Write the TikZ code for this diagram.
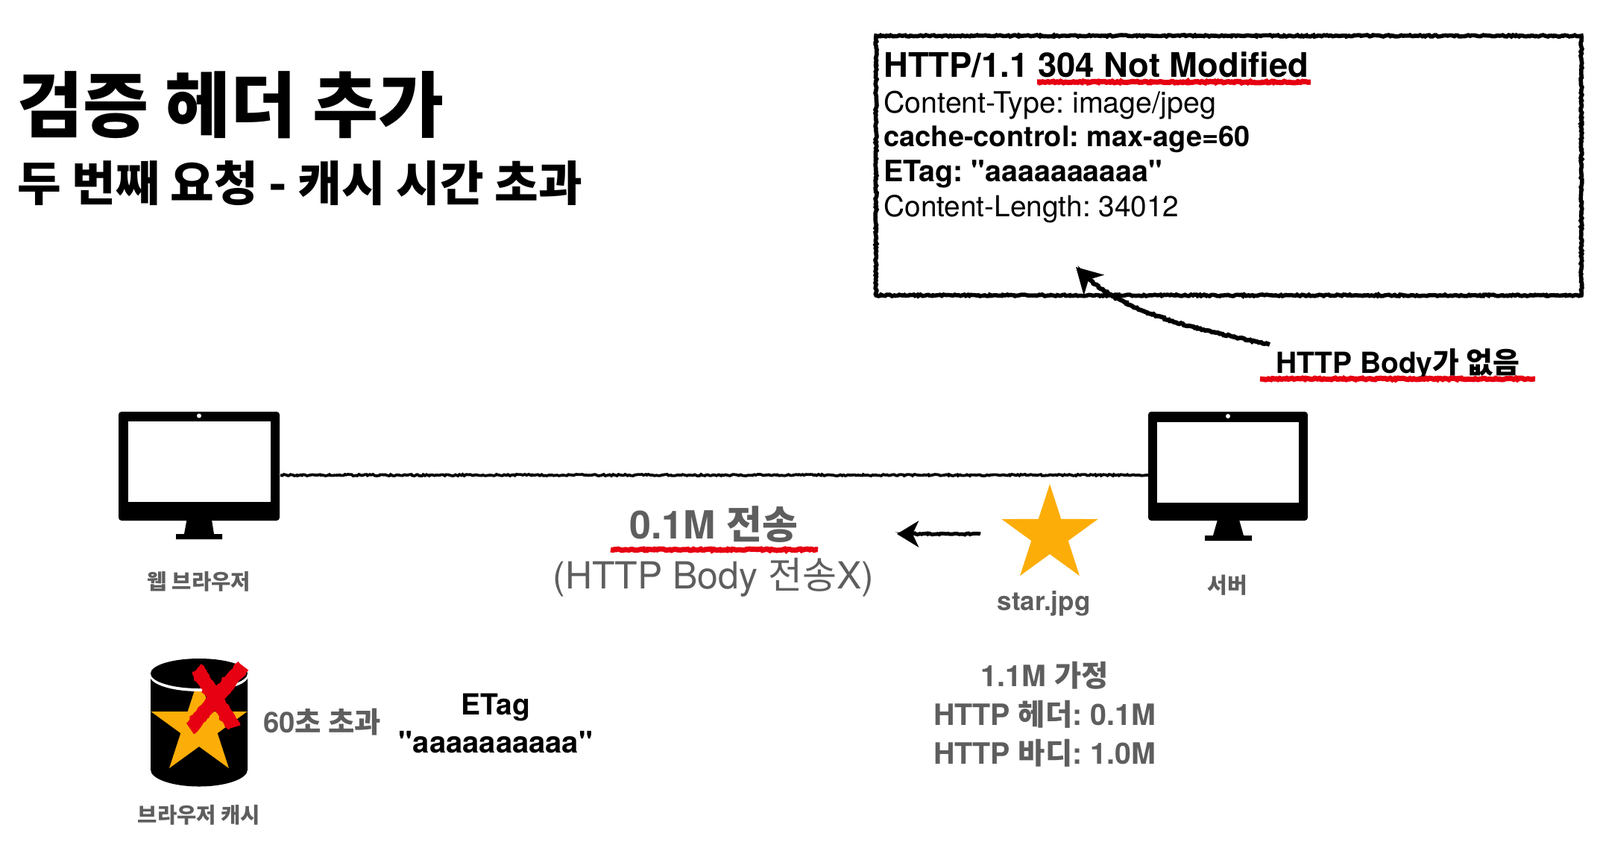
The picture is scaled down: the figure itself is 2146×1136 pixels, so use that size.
\documentclass[tikz,border=0pt]{standalone}
\usepackage{fontspec}
\setmainfont{TeX Gyre Heros}
\newfontfamily\krfont{Noto Sans CJK KR}
\newfontfamily\quotefont{TeX Gyre Heros}
\newcommand{\kr}[1]{{\krfont #1}}
\newcommand{\qt}{{\quotefont"}}
\usetikzlibrary{arrows.meta,decorations.pathmorphing,shapes.geometric}
\definecolor{labelgray}{HTML}{5E5E5E}
\definecolor{markred}{HTML}{E60012}
\definecolor{staryellow}{HTML}{FDAD07}
\tikzset{
  rough/.style={decorate,decoration={random steps,segment length=1.2pt,amplitude=.5pt}},
  roughtip/.style={decorate,decoration={random steps,segment length=1.2pt,amplitude=.5pt,post length=8pt}},
  txt/.style={inner sep=0pt,font=\bfseries},
  graytxt/.style={txt,text=labelgray},
  monitor/.style={fill=black,rounded corners=2pt,inner sep=0pt},
  screen/.style={fill=white,inner sep=0pt},
  jpgstar/.style={star,star points=5,star point ratio=2.618,fill=staryellow,inner sep=0pt,minimum size=68pt}
}
\begin{document}
\frenchspacing
\begin{tikzpicture}[x=0.5pt,y=-0.5pt]
  \useasboundingbox (0,0) rectangle (2146,1136);

  % title
  \node[txt,anchor=west,font=\bfseries\fontsize{47.9}{56}\selectfont] (title) at (23,141) {\kr{검증 헤더 추가}};
  \node[txt,anchor=west,font=\bfseries\fontsize{31.9}{38}\selectfont] (subtitle) at (23,246) {\kr{두 번째 요청 - 캐시 시간 초과}};

  % response box
  \node[draw,line width=2.8pt,rough,inner sep=0pt,minimum width=473pt,minimum height=174pt] (statusbox) at (1648,222) {};
  \node[txt,anchor=base west,font=\bfseries\fontsize{22.7}{26}\selectfont] (statusline) at (1185,103) {HTTP/1.1 304 Not Modified};
  \node[inner sep=0pt,anchor=base west,font=\fontsize{19.7}{22}\selectfont] (typeline) at (1185,151) {Content-Type: image/jpeg};
  \node[txt,anchor=base west,font=\bfseries\fontsize{19}{22}\selectfont] (cacheline) at (1185,196) {cache-control: max-age=60};
  \node[txt,anchor=base west,font=\bfseries\fontsize{19.7}{22}\selectfont] (etagline) at (1185,243) {ETag: \qt aaaaaaaaaa\qt};
  \node[inner sep=0pt,anchor=base west,font=\fontsize{19.4}{22}\selectfont] (lengthline) at (1185,290) {Content-Length: 34012};
  \draw[markred,line width=3.5pt,rough] (1391,110) -- (1758,110);

  % note
  \node[txt,anchor=base west,font=\bfseries\fontsize{19.5}{24}\selectfont] (bodynote) at (1711,500) {HTTP Body\kr{가 없음}};
  \draw[markred,line width=3.5pt,rough] (1690,508) -- (2059,508);
  \coordinate (notestart) at (1703,462);
  \coordinate (notetip) at (1443,358);
  \draw[line width=3pt,roughtip,-{Stealth[length=17pt,width=19pt,inset=5pt]}] (notestart) .. controls (1600,440) and (1500,420) .. (notetip);

  % browser
  \node[monitor,minimum width=108pt,minimum height=73pt] (browser) at (267,625) {};
  \node[screen,minimum width=95.5pt,minimum height=54pt] (browserscreen) at (267,619) {};
  \fill[white] (267,557.5) circle (1.5pt);
  \fill (250.5,697) -- (284,697) -- (287,716) -- (298,716) -- (298,723) -- (236,723) -- (236,716) -- (247,716) -- cycle;
  \node[graytxt,font=\bfseries\fontsize{14.3}{18}\selectfont] (browserlabel) at (267,780) {\kr{웹 브라우저}};

  % server
  \node[monitor,minimum width=107pt,minimum height=73pt] (server) at (1647,625) {};
  \node[screen,minimum width=95pt,minimum height=54pt] (serverscreen) at (1647,620) {};
  \fill[white] (1647,558) circle (1.5pt);
  \fill (1633,697) -- (1662,697) -- (1668,718) -- (1679,718) -- (1679,725) -- (1616,725) -- (1616,718) -- (1627,718) -- cycle;
  \node[graytxt,font=\bfseries\fontsize{14.5}{18}\selectfont] (serverlabel) at (1646,785) {\kr{서버}};

  \coordinate (browserport) at (376,637);
  \coordinate (serverport) at (1540,637);
  \draw[line width=1.9pt,rough] (browserport) -- (serverport);

  % image and transfer
  \node[jpgstar] (jpgfile) at (1408,717) {};
  \node[graytxt,font=\bfseries\fontsize{17.5}{20}\selectfont] (jpglabel) at (1400,809) {star.jpg};
  \coordinate (sendstart) at (1315,716);
  \coordinate (sendtip) at (1203,716);
  \draw[line width=2.5pt,roughtip,-{Stealth[length=14.5pt,width=17.5pt,inset=4pt]}] (sendstart) -- (sendtip);
  \node[graytxt,font=\bfseries\fontsize{26}{30}\selectfont] (sentsize) at (957,703) {0.1M \kr{전송}};
  \draw[markred,line width=3.5pt,rough] (819,737) -- (1097,737);
  \node[inner sep=0pt,text=labelgray,font=\fontsize{25}{30}\selectfont] (sentnote) at (957,774) {(HTTP Body \kr{전송}X)};

  % size notes
  \node[graytxt,font=\bfseries\fontsize{19.7}{24}\selectfont] (sizeline) at (1401,906) {1.1M \kr{가정}};
  \node[graytxt,font=\bfseries\fontsize{19.7}{24}\selectfont] (headerline) at (1401,958) {HTTP \kr{헤더}: 0.1M};
  \node[graytxt,font=\bfseries\fontsize{19.7}{24}\selectfont] (bodyline) at (1401,1010) {HTTP \kr{바디}: 1.0M};

  % browser cache
  \fill (202,907) -- (202,1032) arc[start angle=180,end angle=0,x radius=65,y radius=22.5] -- (332,907) -- cycle;
  \node[jpgstar] (cachestar) at (267,975) {};
  \fill[white] (267,906) ellipse[x radius=66,y radius=21];
  \fill (267,903) ellipse[x radius=65,y radius=20];
  \node[graytxt,font=\bfseries\fontsize{14.3}{18}\selectfont] (cachelabel) at (267,1093) {\kr{브라우저 캐시}};
  \node[graytxt,font=\bfseries\fontsize{19.2}{24}\selectfont] (expirelabel) at (432,968) {60\kr{초 초과}};
  \node[txt,font=\bfseries\fontsize{19.5}{24}\selectfont] (etagname) at (665,949) {ETag};
  \node[txt,font=\bfseries\fontsize{20}{24}\selectfont] (etagvalue) at (665,995) {\qt aaaaaaaaaa\qt};
  \draw[markred,line width=9pt,rough] (264,897) -- (314,975);
  \draw[markred,line width=9pt,rough] (326,893) -- (255,977);
\end{tikzpicture}
\end{document}
